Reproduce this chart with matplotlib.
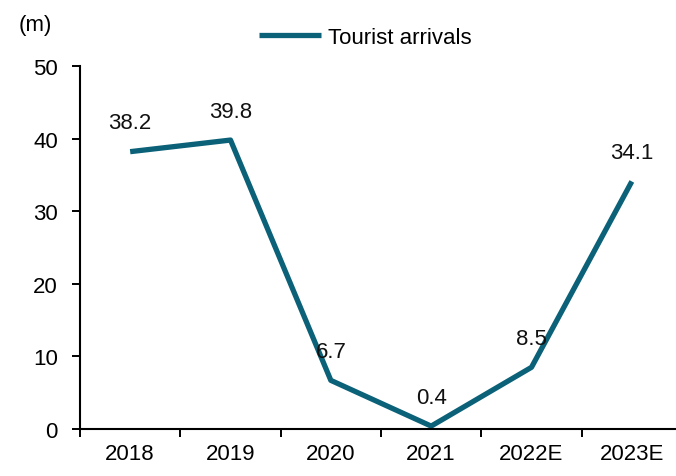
import matplotlib.pyplot as plt
import numpy as np

years = ["2018", "2019", "2020", "2021", "2022E", "2023E"]
arrivals = [38.2, 39.8, 6.7, 0.4, 8.5, 34.1]

plt.rcParams["font.family"] = ["Liberation Sans", "DejaVu Sans"]
plt.rcParams["font.size"] = 16

fig = plt.figure(figsize=(6.76, 4.77), dpi=100)
ax = fig.add_axes([80 / 676, 47 / 477, 602 / 676, 363 / 477])

x = np.arange(len(years))
line_color = "#0A6178"
ax.plot(x, arrivals, color=line_color, lw=3.8, solid_capstyle="butt", label="Tourist arrivals")

for xi, v in zip(x, arrivals):
    ax.annotate(f"{v:.1f}", (xi, v), xytext=(0, 29), textcoords="offset pixels",
                ha="center", va="center", color="#111111")

ax.set_xlim(-0.5, 5.5)
ax.set_ylim(0, 50)
ax.set_yticks(range(0, 51, 10))
ax.set_xticks(np.arange(-0.5, 6, 1))
ax.set_xticklabels([])
ax.set_xticks(x, minor=True)
ax.set_xticklabels(years, minor=True)
ax.tick_params(axis="x", which="minor", length=0, pad=10)
ax.tick_params(axis="x", which="major", length=6, width=1.4, direction="out")
ax.tick_params(axis="y", length=6, width=1.4, direction="out", pad=10)

for s in ["top", "right"]:
    ax.spines[s].set_visible(False)
for s in ["left", "bottom"]:
    ax.spines[s].set_linewidth(1.5)

fig.text(35 / 676, 1 - 25 / 477, "(m)", ha="center", va="center")
ax.legend(loc="center", bbox_to_anchor=(365 / 676, 1 - 38 / 477), bbox_transform=fig.transFigure,
          frameon=False, handlelength=2.8, handletextpad=0.3, borderpad=0)

fig.savefig("out.png", dpi=100)
